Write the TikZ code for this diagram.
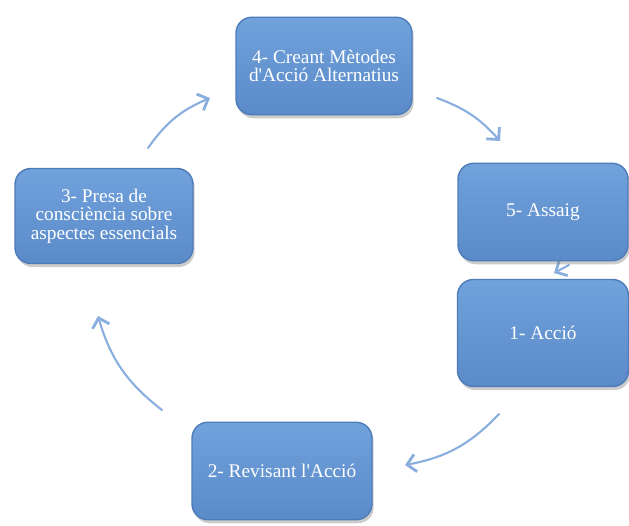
\documentclass[tikz,border=0pt]{standalone}
\usepackage{fontspec}
\setmainfont{Liberation Serif}
\usepackage{tikz}
\usepackage{xcolor}
\usetikzlibrary{shapes.geometric, arrows.meta, positioning, shadows, backgrounds}
\definecolor{boxtop}{RGB}{114, 162, 220}
\definecolor{boxbot}{RGB}{90, 138, 200}
\definecolor{boxedge}{RGB}{78, 124, 184}
\definecolor{cyclearrow}{RGB}{138, 174, 222}

\begin{document}
\begin{tikzpicture}[x=0.02cm, y=-0.02cm,
    box/.style={rectangle, rounded corners=9pt, draw=boxedge, line width=0.8pt,
                top color=boxtop, bottom color=boxbot,
                minimum width=3.5cm, minimum height=1.95cm, align=center,
                text=white, font=\fontsize{11}{10.6}\selectfont,
                drop shadow={shadow xshift=1pt, shadow yshift=-2pt, opacity=0.4}},
    cycle/.style={draw=cyclearrow, line width=1.2pt, line cap=round,
                  -{Straight Barb[length=5pt, width=10pt, line width=1.6pt]}}]

    \useasboundingbox (0,0) rectangle (629,525);

    % arrow ends
    \coordinate (c3s) at (148,148);  \coordinate (c3e) at (210,98);
    \coordinate (c4s) at (437,98);   \coordinate (c4e) at (500,141);
    \coordinate (c5s) at (569,265);  \coordinate (c5e) at (554,273);
    \coordinate (c1s) at (499,414);  \coordinate (c1e) at (405,465);
    \coordinate (c2s) at (162,410);  \coordinate (c2e) at (98,316);

    \draw[cycle] (c3s) to[bend left=16] (c3e);
    \draw[cycle] (c4s) to[bend left=14] (c4e);
    \draw[cycle] (c5s) -- (c5e);
    \draw[cycle] (c1s) to[bend left=18] (c1e);
    \draw[cycle] (c2s) to[bend left=18] (c2e);

    \node[box, minimum width=3.52cm] (act4) at (324,66) {4- Creant Mètodes\\d\textquotesingle Acció Alternatius};
    \node[box, minimum width=3.4cm] (act5) at (543,212) {5- Assaig};
    \node[box, minimum width=3.42cm, minimum height=2.14cm] (act1) at (543,333) {1- Acció};
    \node[box, minimum width=3.56cm, minimum height=1.9cm] (act3) at (104,216) {3- Presa de\\consciència sobre\\aspectes essencials};
    \node[box, minimum width=3.6cm] (act2) at (282,471) {2- Revisant l\textquotesingle Acció};
\end{tikzpicture}
\end{document}
